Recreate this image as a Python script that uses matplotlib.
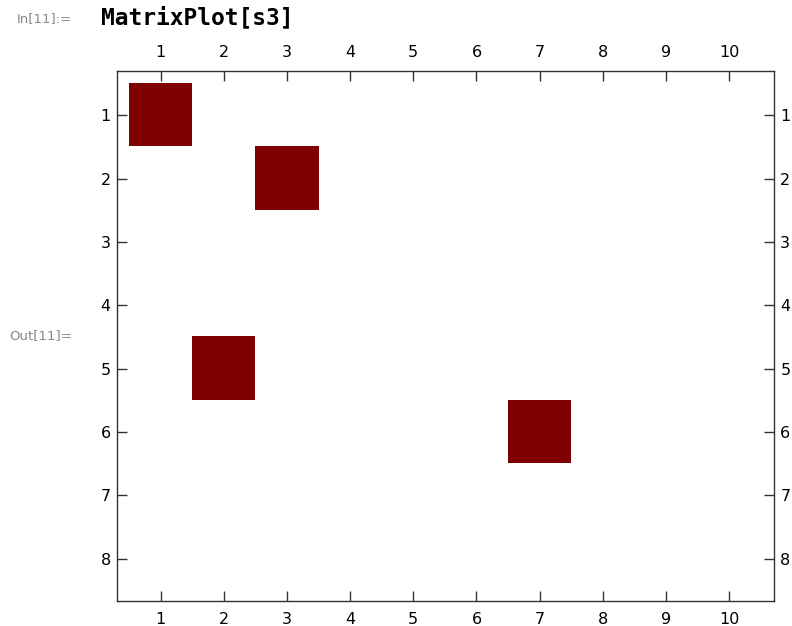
import numpy as np
import matplotlib
matplotlib.use("Agg")
import matplotlib.pyplot as plt
from matplotlib.colors import ListedColormap

# matrix s3 : 8 rows x 10 columns, nonzero entries (row, col), 1-based
n_rows = 8
n_cols = 10
nonzero_rows = [1, 2, 5, 6]
nonzero_cols = [1, 3, 2, 7]
x_ticks = [1, 2, 3, 4, 5, 6, 7, 8, 9, 10]
y_ticks = [1, 2, 3, 4, 5, 6, 7, 8]

CELL = "#7f0000"
FRAME = "#333333"
LABEL = "#888888"

s3 = np.zeros((n_rows, n_cols))
for r, c in zip(nonzero_rows, nonzero_cols):
    s3[r - 1, c - 1] = 1

fig = plt.figure(figsize=(7.92, 6.26), dpi=100)
fig.patch.set_facecolor("white")
ax = fig.add_axes([117 / 792, 1 - 601 / 626, 657 / 792, 530 / 626])

cmap = ListedColormap(["white", CELL])
ax.imshow(s3, cmap=cmap, interpolation="nearest", aspect="auto",
          extent=(0.5, n_cols + 0.5, n_rows + 0.5, 0.5), vmin=0, vmax=1)

ax.set_xlim(0.31, 10.71)
ax.set_ylim(8.67, 0.30)
ax.set_xticks(x_ticks)
ax.set_yticks(y_ticks)
ax.tick_params(axis="both", which="both", direction="in", length=7, width=1,
               color=FRAME, labelsize=11.5, pad=4.5,
               top=True, bottom=True, left=True, right=True,
               labeltop=True, labelbottom=True, labelleft=True, labelright=True)
ax.tick_params(axis="x", pad=8)
for spine in ax.spines.values():
    spine.set_edgecolor(FRAME)
    spine.set_linewidth(1)

fig.text(101 / 792, 1 - 18 / 626, "MatrixPlot[s3]", family="DejaVu Sans Mono",
         fontweight="bold", fontsize=16.5, va="center", ha="left")
fig.text(72 / 792, 1 - 19 / 626, "In[11]:=", color=LABEL, fontsize=9.5,
         va="center", ha="right")
fig.text(72 / 792, 1 - 336 / 626, "Out[11]=", color=LABEL, fontsize=9.5,
         va="center", ha="right")

fig.savefig("out.png", dpi=100)
plt.close(fig)
